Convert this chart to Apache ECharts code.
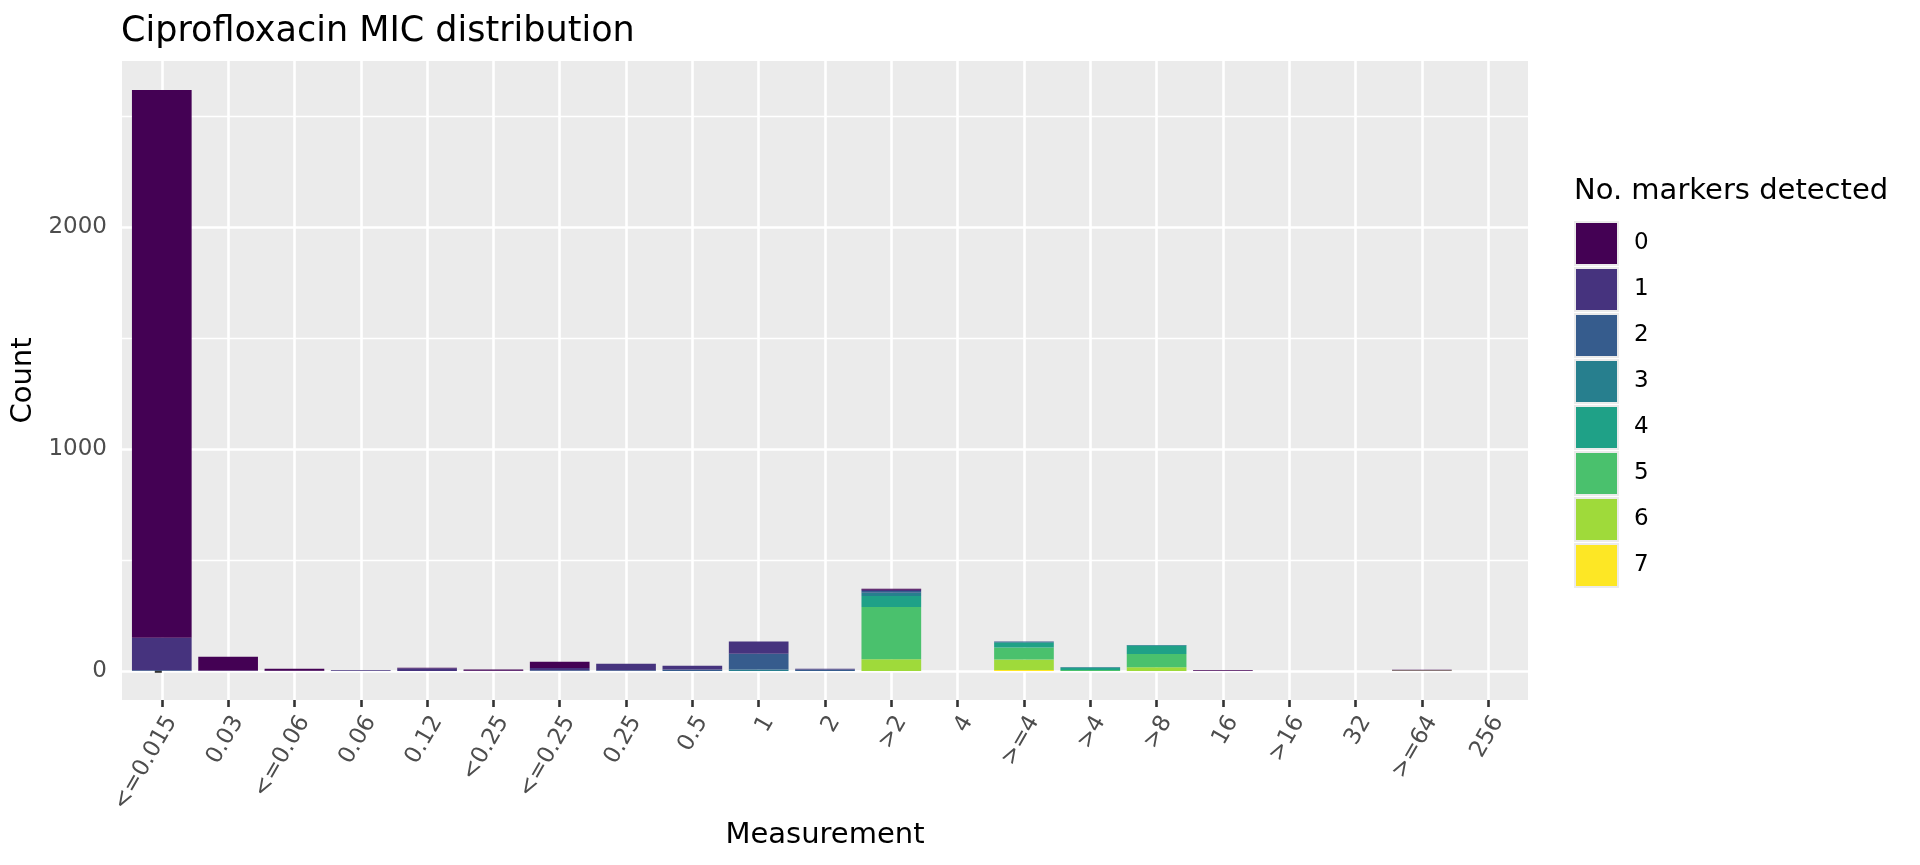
<!DOCTYPE html>
<html>
<head>
<meta charset="utf-8">
<script src="https://cdn.jsdelivr.net/npm/echarts@6/dist/echarts.min.js"></script>
<style>html,body{margin:0;padding:0;background:#fff;}#chart{width:1920px;height:865px;}</style>
</head>
<body>
<div id="chart"></div>
<script>
// ---- data ----
const categories = ["<=0.015","0.03","<=0.06","0.06","0.12","<0.25","<=0.25","0.25","0.5","1","2",">2","4",">=4",">4",">8","16",">16","32",">=64","256"];
const m0 = [2468, 62, 9, 0, 3, 5, 28, 0, 0, 0, 0, 4, 0, 0, 0, 0, 3, 0, 0, 3, 0];
const m1 = [147, 2, 1, 3, 12, 1, 10, 30, 18, 55, 4, 6, 0, 0, 0, 0, 0, 0, 0, 0, 0];
const m2 = [3, 0, 0, 0, 0, 0, 3, 3, 6, 72, 6, 8, 0, 2, 0, 0, 0, 0, 0, 0, 0];
const m3 = [0, 0, 0, 0, 0, 0, 0, 0, 0, 6, 0, 14, 0, 4, 4, 3, 0, 0, 0, 0, 0];
const m4 = [0, 0, 0, 0, 0, 0, 0, 0, 0, 0, 0, 50, 0, 21, 9, 38, 0, 0, 0, 0, 0];
const m5 = [0, 0, 0, 0, 0, 0, 0, 0, 0, 0, 0, 235, 0, 54, 4, 59, 0, 0, 0, 0, 0];
const m6 = [0, 0, 0, 0, 0, 0, 0, 0, 0, 0, 0, 53, 0, 48, 0, 17, 0, 0, 0, 2, 0];
const m7 = [0, 0, 0, 0, 0, 0, 0, 0, 0, 0, 0, 0, 0, 4, 0, 0, 0, 0, 0, 0, 0];
const groupNames = ["0","1","2","3","4","5","6","7"];
const yMajorTicks = [0, 1000, 2000];
const yMinorTicks = [500, 1500, 2500];

// ---- styling ----
const colors = ["#440154","#46337E","#365C8D","#277F8E","#1FA187","#4AC16D","#9FDA3A","#FDE725"];
const FONT = "DejaVu Sans";
const gridLeft = 122, gridTop = 61, gridW = 1406, gridH = 639;

const groups = [m0, m1, m2, m3, m4, m5, m6, m7];
const totals = categories.map((_, i) => groups.reduce((s, g) => s + g[i], 0));
const maxTotal = Math.max(...totals);
const yMin = -0.05 * maxTotal, yMax = maxTotal * 1.05;
const xMin = -0.6, xMax = categories.length - 1 + 0.6;
const catIdx = categories.map((_, i) => i);
const unit = gridW / (xMax - xMin);

const series = [];
for (let k = groups.length - 1; k >= 0; k--) {
  series.push({
    name: groupNames[k],
    type: 'bar',
    stack: 'total',
    xAxisIndex: 1, yAxisIndex: 2,
    barWidth: '90%',
    itemStyle: { color: colors[k] },
    emphasis: { disabled: true },
    data: groups[k]
  });
}

const chart = echarts.init(document.getElementById('chart'), null, { renderer: 'canvas' });
chart.setOption({
  animation: false,
  backgroundColor: '#ffffff',
  textStyle: { fontFamily: FONT },
  title: [
    { text: 'Ciprofloxacin MIC distribution', left: gridLeft - 1, top: 14, padding: 0,
      textStyle: { fontFamily: FONT, fontSize: 35, fontWeight: 'normal', color: '#000' } },
    { text: 'No. markers detected', left: 1574, top: 177, padding: 0,
      textStyle: { fontFamily: FONT, fontSize: 29, fontWeight: 'normal', color: '#000' } }
  ],
  legend: {
    orient: 'vertical', left: 1574, top: 221, padding: 0,
    data: groupNames,
    icon: 'rect', itemWidth: 43, itemHeight: 43, itemGap: 1,
    itemStyle: { borderColor: '#EBEBEB', borderWidth: 2 },
    textStyle: { fontFamily: FONT, fontSize: 23, color: '#000', padding: [0, 0, 0, 11] },
    selectedMode: false
  },
  grid: [
    { left: gridLeft, top: gridTop, width: gridW, height: gridH, show: true,
      backgroundColor: '#EBEBEB', borderWidth: 0 },
    { left: gridLeft + 0.1 * unit, top: gridTop, width: categories.length * unit, height: gridH, show: false }
  ],
  xAxis: [
    {
      gridIndex: 0, type: 'value', min: xMin, max: xMax,
      name: 'Measurement', nameLocation: 'middle', nameGap: 98,
      nameTextStyle: { fontFamily: FONT, fontSize: 29, color: '#000' },
      axisLine: { show: false, onZero: false },
      axisTick: { show: true, customValues: catIdx, length: 7, lineStyle: { color: '#333333', width: 2.6 } },
      axisLabel: { customValues: catIdx, rotate: 60, margin: 12, verticalAlign: 'top',
                   fontFamily: FONT, fontSize: 23, color: '#4D4D4D',
                   formatter: v => categories[Math.round(v)] },
      splitLine: { show: true, lineStyle: { color: '#ffffff', width: 2.6 } }
    },
    {
      gridIndex: 1, type: 'category', data: categories, show: false, boundaryGap: true
    }
  ],
  yAxis: [
    {
      gridIndex: 0, type: 'value', min: yMin, max: yMax,
      name: 'Count', nameLocation: 'middle', nameGap: 79, nameRotate: 90,
      nameTextStyle: { fontFamily: FONT, fontSize: 29, color: '#000' },
      axisLine: { show: false },
      axisTick: { show: true, customValues: yMajorTicks, length: 7, lineStyle: { color: '#333333', width: 2.6 } },
      axisLabel: { customValues: yMajorTicks, margin: 15, fontFamily: FONT, fontSize: 23, color: '#4D4D4D',
                   formatter: v => String(v) },
      splitLine: { show: true, lineStyle: { color: '#ffffff', width: 2.6 } }
    },
    {
      gridIndex: 0, type: 'value', min: yMin, max: yMax, position: 'left',
      axisLine: { show: false },
      axisTick: { show: false, customValues: yMinorTicks },
      axisLabel: { show: false, customValues: yMinorTicks },
      splitLine: { show: true, lineStyle: { color: '#ffffff', width: 1.3 } }
    },
    {
      gridIndex: 1, type: 'value', min: yMin, max: yMax, show: false, splitLine: { show: false }
    }
  ],
  series: series
});
</script>
</body>
</html>
